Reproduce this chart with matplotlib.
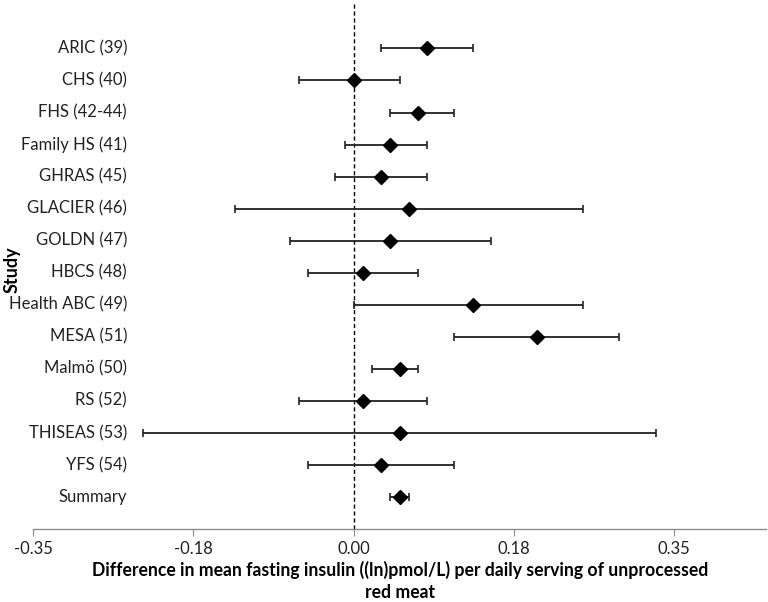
import numpy as np
import matplotlib
matplotlib.use("Agg")
import matplotlib.pyplot as plt
import matplotlib.transforms as mtransforms

plt.rcParams['font.family'] = ['Lato', 'DejaVu Sans']

# study estimates (top to bottom)
studies = ['ARIC (39)', 'CHS (40)', 'FHS (42-44)', 'Family HS (41)', 'GHRAS (45)',
           'GLACIER (46)', 'GOLDN (47)', 'HBCS (48)', 'Health ABC (49)', 'MESA (51)',
           'Malmö (50)', 'RS (52)', 'THISEAS (53)', 'YFS (54)', 'Summary']
estimate = [0.080, 0.000, 0.070, 0.040, 0.030, 0.060, 0.040, 0.010, 0.130, 0.200,
            0.050, 0.010, 0.050, 0.030, 0.050]
lower = [0.030, -0.060, 0.040, -0.010, -0.020, -0.130, -0.070, -0.050, 0.000, 0.110,
         0.020, -0.060, -0.230, -0.050, 0.040]
upper = [0.130, 0.050, 0.110, 0.080, 0.080, 0.250, 0.150, 0.070, 0.250, 0.290,
         0.070, 0.080, 0.330, 0.110, 0.060]
xticks = [-0.35, -0.175, 0.0, 0.175, 0.35]
xtick_labels = ['-0.35', '-0.18', '0.00', '0.18', '0.35']

est = np.array(estimate)
lo = np.array(lower)
hi = np.array(upper)
ypos = np.arange(len(studies), 0, -1)

fig = plt.figure(figsize=(7.68, 6.02), dpi=100)
ax = fig.add_axes([33 / 768, 1 - 529 / 602, 733 / 768, 527 / 602])

ax.axvline(0, color='black', linestyle=(0, (3, 2)), linewidth=1.0, zorder=1)
ax.errorbar(est, ypos, xerr=[est - lo, hi - est], fmt='D', color='black',
            ecolor='#222222', elinewidth=1.3, capsize=3, capthick=1.2,
            markersize=7, zorder=3)

trans = mtransforms.blended_transform_factory(fig.transFigure, ax.transData)
for name, y in zip(studies, ypos):
    ax.text(127 / 768, y, name, transform=trans, ha='right', va='center',
            fontsize=12, color='#222222')

ax.set_xlim(-0.35, 0.45)
ax.set_ylim(0, 16.45)
ax.set_xticks(xticks)
ax.set_xticklabels(xtick_labels, fontsize=12, color='#222222')
ax.set_yticks([])
for side in ['top', 'right', 'left']:
    ax.spines[side].set_visible(False)
ax.spines['bottom'].set_color('#8c8c8c')
ax.spines['bottom'].set_linewidth(1.0)
ax.tick_params(axis='x', direction='out', length=5, color='#8c8c8c', pad=4)

fig.text(12 / 768, 1 - 270 / 602, 'Study', rotation=90, ha='center', va='center',
         fontsize=13, fontweight='bold')
fig.text(400 / 768, 1 - 581 / 602,
         'Difference in mean fasting insulin ((ln)pmol/L) per daily serving of unprocessed\nred meat',
         ha='center', va='center', fontsize=12.7, fontweight='bold', linespacing=1.35)

fig.savefig('out.png', dpi=100)
